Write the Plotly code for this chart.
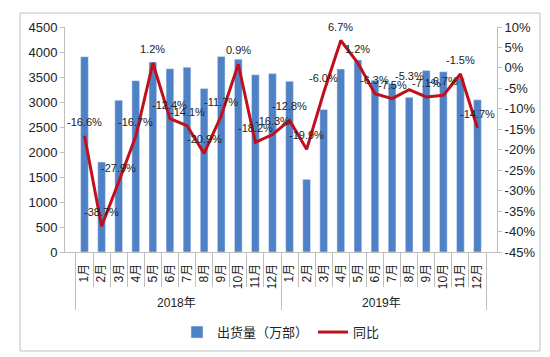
import plotly.graph_objects as go

years = ["2018年"] * 12 + ["2019年"] * 12
months = [f"{i}月" for i in range(1, 13)] * 2
shipments = [3906, 1800, 3034, 3427, 3800, 3664, 3696, 3269, 3912, 3856, 3543, 3568,
             3413, 1453, 2848, 3659, 3840, 3434, 3372, 3095, 3630, 3605, 3485, 3044]
yoy = [-16.6, -38.7, -27.9, -16.7, 1.2, -12.4, -14.1, -20.9, -11.7, 0.9, -18.2, -16.3,
       -12.8, -19.9, -6.0, 6.7, 1.2, -6.3, -7.5, -5.3, -7.1, -6.7, -1.5, -14.7]
left_ticks = list(range(0, 4501, 500))
right_ticks = list(range(-45, 11, 5))

FONT = "Liberation Sans, Noto Sans CJK SC, sans-serif"
BLUE = "#4F81C6"
RED = "#C0101C"

fig = go.Figure()
fig.add_trace(go.Bar(x=[years, months], y=shipments, name="出货量（万部）",
                     marker_color=BLUE, yaxis="y"))
fig.add_trace(go.Scatter(x=[years, months], y=yoy, name="同比", mode="lines",
                         line=dict(color=RED, width=3), yaxis="y2"))

annotations = []
for yr, m, v in zip(years, months, yoy):
    annotations.append(dict(x=[yr, m], y=v, xref="x", yref="y2", text=f"{v:.1f}%",
                            showarrow=False, yshift=14,
                            font=dict(size=11, color="#222", family=FONT)))
fig.update_layout(annotations=annotations)

fig.update_layout(
    width=542, height=349,
    margin=dict(l=57, r=53, t=19, b=105, autoexpand=False),
    paper_bgcolor="white", plot_bgcolor="white",
    font=dict(family=FONT, size=12, color="#222"),
    bargap=0.55,
    showlegend=True,
    legend=dict(orientation="h", x=0.5, xanchor="center", y=-0.356, yanchor="middle",
                font=dict(size=13, family=FONT), itemwidth=30, traceorder="normal"),
    xaxis=dict(type="multicategory", tickangle=-90, showline=True, linecolor="#BFBFBF",
               ticks="outside", tickson="boundaries", ticklen=34, tickcolor="#BFBFBF",
               showdividers=True, dividercolor="#BFBFBF", dividerwidth=1, automargin=False,
               ticklabelstandoff=6,
               tickfont=dict(size=12, family=FONT), showgrid=False),
    yaxis=dict(range=[0, 4500], tickvals=left_ticks, showgrid=False, showline=True,
               linecolor="#BFBFBF", ticks="outside", ticklen=4, tickcolor="#BFBFBF",
               automargin=False,
               tickfont=dict(size=13, family=FONT), zeroline=False),
    yaxis2=dict(range=[-45, 10], tickvals=right_ticks, ticktext=[f"{t}%" for t in right_ticks],
                overlaying="y", side="right", showgrid=False, showline=True,
                linecolor="#BFBFBF", ticks="outside", ticklen=4, tickcolor="#BFBFBF",
                automargin=False,
                tickfont=dict(size=13, family=FONT), zeroline=False),
    shapes=[dict(type="rect", xref="paper", yref="paper", x0=-0.104, x1=1.0995,
                 y0=-0.44, y1=1.062, line=dict(color="#BFBFBF", width=1), layer="below")],
)

fig.write_html("out.html")
